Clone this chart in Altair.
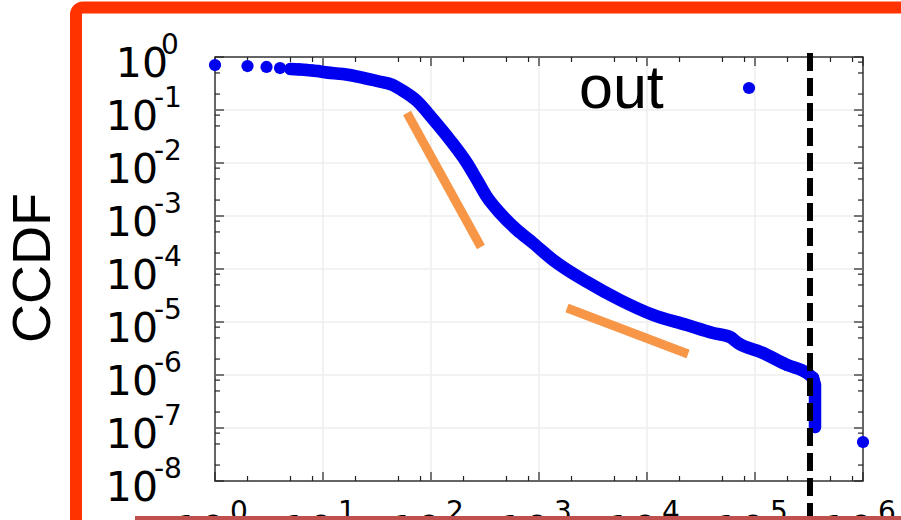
import altair as alt
import pandas as pd

# Out-degree CCDF (degree, fraction of nodes with degree >= value)
DEG = [1, 2, 3, 4, 5, 6, 7, 8, 9, 10, 15.3, 22.0, 31.6, 44.5, 51.6, 74.2, 104, 150, 215,
       267, 330, 435, 626, 880, 1349, 2782, 5623, 11370, 23450, 40850, 58700, 69600,
       118600, 197800, 303000, 344700, 359400, 359400, 359400, 359400, 359400, 359400]
CCDF = [0.706, 0.676, 0.648, 0.620, 0.594, 0.581, 0.569, 0.556, 0.544, 0.521, 0.478,
        0.419, 0.352, 0.296, 0.249, 0.148, 0.0676, 0.0272, 0.0100, 0.00478, 0.00228,
        0.00114, 5.44e-4, 3.10e-4, 1.48e-4, 5.69e-5, 2.60e-5, 1.36e-5, 8.77e-6, 6.20e-6,
        5.21e-6, 4.02e-6, 2.60e-6, 1.55e-6, 1.09e-6, 8.77e-7, 6.48e-7, 4.57e-7, 3.10e-7,
        2.19e-7, 1.55e-7, 1.04e-7]
OUTLIER_DEG = [1.0e6]
OUTLIER_CCDF = [5.44e-8]

# Power-law guide segments
FIT_A_DEG = [60, 290]
FIT_A_CCDF = [0.0878, 2.60e-4]
FIT_B_DEG = [1816, 23990]
FIT_B_CCDF = [1.84e-5, 2.49e-6]

# Degree cut-off marker
CUTOFF_DEG = [323000]

# Axis decades (exponents of 10) and minor tick multipliers
X_EXP = [0, 1, 2, 3, 4, 5, 6]
Y_EXP = [0, -1, -2, -3, -4, -5, -6, -7, -8]
MINOR_MULT = [2, 5, 8]

W, H = 648, 424
BLUE = "#0000f0"
ORANGE = "#f79646"
TICK_FONT = "DejaVu Sans"
TEXT_FONT = "Liberation Sans"
DOT = 150

xs = alt.Scale(type="log", domain=[1, 1e6], nice=False)
ys = alt.Scale(type="log", domain=[1e-8, 1], nice=False)

x_major = [10.0 ** e for e in X_EXP]
y_major = [10.0 ** e for e in Y_EXP]
x_minor = [m * 10.0 ** e for e in X_EXP[:-1] for m in MINOR_MULT]
y_minor = [m * 10.0 ** e for e in Y_EXP[1:] for m in MINOR_MULT]

one = pd.DataFrame({"k": [0]})


def X(field="v"):
    return alt.X(f"{field}:Q", scale=xs, axis=None)


def Y(field="v"):
    return alt.Y(f"{field}:Q", scale=ys, axis=None)


# grid lines at the inner decades
grid_x = alt.Chart(pd.DataFrame({"v": x_major[1:-1]})).mark_rule(
    color="#eeeeee", strokeWidth=1.5).encode(x=X(), y=alt.value(0), y2=alt.value(H))
grid_y = alt.Chart(pd.DataFrame({"v": y_major[1:-1]})).mark_rule(
    color="#eeeeee", strokeWidth=1.5).encode(y=Y(), x=alt.value(0), x2=alt.value(W))


def xticks(vals, length, top):
    y0 = 0 if top else H
    y1 = length if top else H - length
    return alt.Chart(pd.DataFrame({"v": vals})).mark_rule(
        color="#222", strokeWidth=1.2).encode(x=X(), y=alt.value(y0), y2=alt.value(y1))


def yticks(vals, length, right):
    x0 = W if right else 0
    x1 = W - length if right else length
    return alt.Chart(pd.DataFrame({"v": vals})).mark_rule(
        color="#222", strokeWidth=1.2).encode(y=Y(), x=alt.value(x0), x2=alt.value(x1))


ticks = [
    xticks(x_major, 9, False), xticks(x_minor, 5, False),
    xticks(x_major, 9, True), xticks(x_minor, 5, True),
    yticks(y_major, 9, False), yticks(y_minor, 5, False),
    yticks(y_major, 9, True), yticks(y_minor, 5, True),
]

# y tick labels: "10" with a raised exponent
ylab = alt.Chart(pd.DataFrame({"e": Y_EXP})).transform_calculate(
    v="pow(10, datum.e)",
    lab="toString(datum.e)",
    bx="datum.e == 0 ? -47 : -57",
    ex="datum.e == 0 ? -54 : -61",
)
ylab_base = ylab.mark_text(text="10", align="right", baseline="alphabetic", dy=20,
                           font=TICK_FONT, fontSize=41, color="black").encode(
    x=alt.X("bx:Q", scale=None), y=Y())
ylab_exp = ylab.mark_text(align="left", baseline="alphabetic", dy=-3,
                          font=TICK_FONT, fontSize=28, color="black").encode(
    x=alt.X("ex:Q", scale=None), y=Y(), text="lab:N")

# x tick labels
xlab = alt.Chart(pd.DataFrame({"e": X_EXP})).transform_calculate(
    v="pow(10, datum.e)", lab="toString(datum.e)")
xlab_base = xlab.mark_text(text="10", align="right", baseline="alphabetic", dx=11,
                           font=TICK_FONT, fontSize=41, color="black").encode(
    x=X(), y=alt.value(488))
xlab_exp = xlab.mark_text(align="left", baseline="alphabetic", dx=15,
                          font=TICK_FONT, fontSize=28, color="black").encode(
    x=X(), y=alt.value(463.5), text="lab:N")

# data
curve = pd.DataFrame({"deg": DEG, "ccdf": CCDF, "i": range(len(DEG))})
outlier = pd.DataFrame({"deg": OUTLIER_DEG, "ccdf": OUTLIER_CCDF, "i": [len(DEG)]})
drop_start = max(d for d in DEG if d < max(DEG))

# smooth body of the curve, then the near-vertical drop at the largest degrees
curve_body = alt.Chart(curve).transform_filter(
    f"datum.deg >= 5 && datum.deg <= {drop_start}").mark_line(
    color=BLUE, strokeWidth=12.5, strokeCap="round", strokeJoin="round",
    interpolate="monotone").encode(x=X("deg"), y=Y("ccdf"), order="i:Q")
curve_drop = alt.Chart(curve).transform_filter(
    f"datum.deg >= {drop_start}").mark_line(
    color=BLUE, strokeWidth=12.5, strokeCap="round", strokeJoin="round").encode(
    x=X("deg"), y=Y("ccdf"), order="i:Q")
curve_pts = alt.Chart(pd.concat([curve, outlier])).transform_filter(
    "datum.deg < 10 || datum.deg > 1e5").mark_circle(
    color=BLUE, size=DOT, opacity=1).encode(x=X("deg"), y=Y("ccdf"))

fits = pd.DataFrame({
    "seg": ["a", "a", "b", "b"],
    "deg": FIT_A_DEG + FIT_B_DEG,
    "ccdf": FIT_A_CCDF + FIT_B_CCDF,
})
fit_lines = alt.Chart(fits).mark_line(color=ORANGE, strokeWidth=9, strokeCap="butt").encode(
    x=X("deg"), y=Y("ccdf"), detail="seg:N")

cutoff = alt.Chart(pd.DataFrame({"v": CUTOFF_DEG})).mark_rule(
    color="black", strokeWidth=6, strokeDash=[18, 7]).encode(
    x=X(), y=alt.value(-4), y2=alt.value(475))

# legend key
legend_text = alt.Chart(one).mark_text(
    text="out", align="left", baseline="alphabetic", font=TEXT_FONT, fontSize=61,
    color="black").encode(x=alt.value(364), y=alt.value(50.5))
legend_dot = alt.Chart(one).mark_circle(color=BLUE, size=DOT, opacity=1).encode(
    x=alt.value(534), y=alt.value(31))

y_title = alt.Chart(one).mark_text(
    text="CCDF", angle=270, align="center", baseline="middle", font=TEXT_FONT,
    fontSize=54, color="black").encode(x=alt.value(-181), y=alt.value(211))

# slide frame and underline
frame = alt.Chart(one).mark_rect(
    fillOpacity=0, stroke="#ff3300", strokeWidth=12, cornerRadius=7).encode(
    x=alt.value(-139), x2=alt.value(900), y=alt.value(-49.5), y2=alt.value(600))
underline = alt.Chart(one).mark_rect(color="#c0504d").encode(
    x=alt.value(-80), x2=alt.value(700), y=alt.value(459), y2=alt.value(470))

chart = alt.layer(
    grid_x, grid_y, *ticks,
    curve_body, curve_drop, curve_pts, fit_lines,
    ylab_base, ylab_exp, xlab_base, xlab_exp,
    legend_text, legend_dot, y_title, frame,
    cutoff, underline,
).properties(
    width=W, height=H,
    autosize=alt.AutoSizeParams(type="none"),
    padding={"left": 215, "top": 57, "right": 38, "bottom": 39},
    background="white",
).configure_view(stroke="#333", strokeWidth=1.5)

chart.save("out.html", embed_options={"renderer": "svg", "actions": False})
